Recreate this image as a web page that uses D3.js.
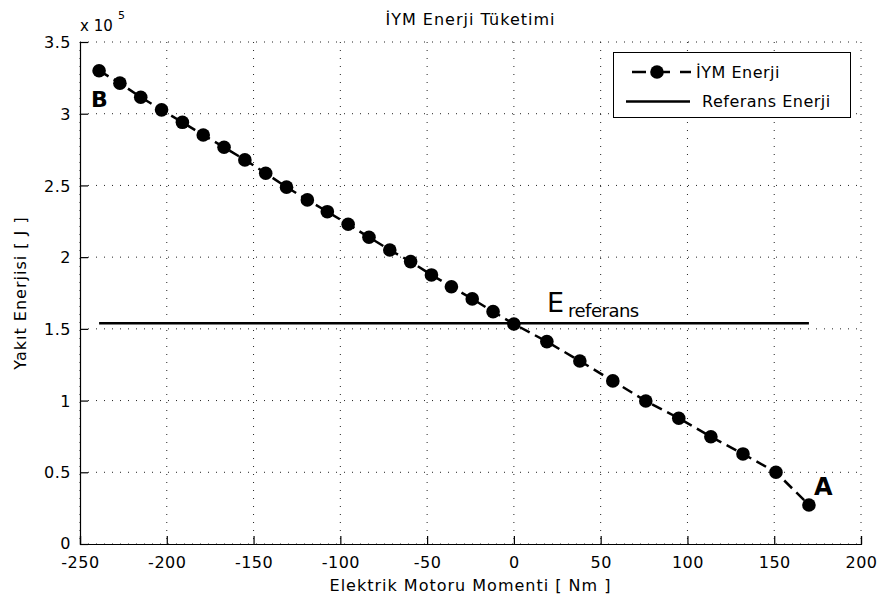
<!DOCTYPE html>
<html>
<head>
<meta charset="utf-8">
<script src="https://cdn.jsdelivr.net/npm/d3@7"></script>
<style>
  body { margin: 0; background: #fff; }
  svg { display: block; font-family: "DejaVu Sans", sans-serif; }
</style>
</head>
<body>
<div id="chart"></div>
<script>
// torque [Nm] and fuel energy [J]
const torque = [-239, -227, -215, -203, -191, -179, -167, -155, -143, -131,
                -119, -107.5, -95.5, -83.5, -71.5, -59.5, -47.5, -36, -24, -12,
                0, 19, 38, 57, 76, 95, 113.5, 132, 151, 170];
const energy = [330000, 321300, 311500, 302700, 294000, 285200, 276600, 267800, 258500, 248800,
                239900, 231700, 222900, 213900, 205000, 196900, 187600, 179400, 170900, 162000,
                153400, 141100, 127600, 113700, 99700, 87700, 74800, 62800, 50000, 27200];
const refEnergy = 153900;

const xTicks = [-250, -200, -150, -100, -50, 0, 50, 100, 150, 200];
const yTicks = [0, 50000, 100000, 150000, 200000, 250000, 300000, 350000];
const yTickLabels = ["0", "0.5", "1", "1.5", "2", "2.5", "3", "3.5"];

const W = 881, H = 602;
const mLeft = 80, mRight = 861, mTop = 42, mBottom = 544;

const svg = d3.select("#chart").append("svg")
    .attr("width", W)
    .attr("height", H);

let x = d3.scaleLinear().domain([-250, 200]).range([mLeft, mRight]);
let y = d3.scaleLinear().domain([0, 350000]).range([mBottom, mTop]);

// dotted grid
svg.append("g").selectAll("line")
    .data(xTicks)
    .enter().append("line")
    .attr("x1", d => x(d)).attr("x2", d => x(d))
    .attr("y1", mTop).attr("y2", mBottom)
    .attr("stroke", "#222").attr("stroke-width", 1)
    .attr("stroke-dasharray", "1,7");
svg.append("g").selectAll("line")
    .data(yTicks)
    .enter().append("line")
    .attr("x1", mLeft).attr("x2", mRight)
    .attr("y1", d => y(d)).attr("y2", d => y(d))
    .attr("stroke", "#222").attr("stroke-width", 1)
    .attr("stroke-dasharray", "1,7");

// axes (inward ticks, box off)
const xAxis = d3.axisBottom(x).tickValues(xTicks).tickSize(-8).tickPadding(13)
    .tickFormat(d => String(d));   // plain hyphen, not the unicode minus
const yAxis = d3.axisLeft(y).tickValues(yTicks).tickSize(-8).tickPadding(9)
    .tickFormat((d, i) => yTickLabels[i]);

const gx = svg.append("g").attr("transform", `translate(0,${mBottom})`).call(xAxis);
const gy = svg.append("g").attr("transform", `translate(${mLeft},0)`).call(yAxis);
[gx, gy].forEach(g => {
    g.select(".domain").attr("stroke", "#000").attr("stroke-width", 1.2);
    g.selectAll(".tick line").attr("stroke", "#000").attr("stroke-width", 1.2);
    g.selectAll(".tick text")
        .attr("fill", "#000")
        .style("font-family", "DejaVu Sans")
        .style("font-size", "16px")
        .style("letter-spacing", "0.5px");
});
gy.selectAll(".tick text").attr("dy", "0.35em");
gy.selectAll(".tick text").filter(d => d === 0).attr("dy", "0.25em");

// exponent
svg.append("text").attr("x", 80).attr("y", 31)
    .style("font-size", "15px").text("x 10");
svg.append("text").attr("x", 118).attr("y", 19)
    .style("font-size", "11px").text("5");

// title and axis labels
svg.append("text").attr("x", (mLeft + mRight) / 2).attr("y", 25)
    .attr("text-anchor", "middle")
    .style("font-size", "16px").style("letter-spacing", "1px")
    .text("İYM Enerji Tüketimi");
svg.append("text").attr("x", (mLeft + mRight) / 2).attr("y", 591)
    .attr("text-anchor", "middle")
    .style("font-size", "16px").style("letter-spacing", "1px")
    .text("Elektrik Motoru Momenti [ Nm ]");
svg.append("text")
    .attr("transform", `translate(26,${(mTop + mBottom) / 2}) rotate(-90)`)
    .attr("text-anchor", "middle")
    .style("font-size", "16px").style("letter-spacing", "1px")
    .text("Yakıt Enerjisi [ J ]");

// reference energy line
svg.append("line")
    .attr("x1", x(torque[0])).attr("x2", x(torque[torque.length - 1]))
    .attr("y1", y(refEnergy)).attr("y2", y(refEnergy))
    .attr("stroke", "#000").attr("stroke-width", 2.5);

// IYM energy: dashed line with markers
const pts = torque.map((t, i) => ({ t: t, e: energy[i] }));
const line = d3.line().x(d => x(d.t)).y(d => y(d.e));
svg.append("path")
    .datum(pts)
    .attr("d", line)
    .attr("fill", "none")
    .attr("stroke", "#000")
    .attr("stroke-width", 2.5)
    .attr("stroke-dasharray", "11,6");
svg.append("g").selectAll("circle")
    .data(pts)
    .enter().append("circle")
    .attr("cx", d => x(d.t))
    .attr("cy", d => y(d.e))
    .attr("r", 6.8)
    .attr("fill", "#000");

// annotations
svg.append("text").attr("x", 91).attr("y", 107)
    .style("font-size", "22px").style("font-weight", "bold").text("B");
svg.append("text").attr("x", 814).attr("y", 495)
    .style("font-size", "24px").style("font-weight", "bold").text("A");
svg.append("text").attr("x", 547).attr("y", 312)
    .style("font-size", "27px").text("E");
svg.append("text").attr("x", 568).attr("y", 317)
    .style("font-size", "18px").style("letter-spacing", "-0.5px").text("referans");

// legend
const lg = svg.append("g");
lg.append("rect")
    .attr("x", 613.5).attr("y", 52.5).attr("width", 237).attr("height", 65)
    .attr("fill", "#fff").attr("stroke", "#000").attr("stroke-width", 1);
lg.append("line")
    .attr("x1", 632).attr("x2", 691).attr("y1", 72).attr("y2", 72)
    .attr("stroke", "#000").attr("stroke-width", 2.5)
    .attr("stroke-dasharray", "14,10");
lg.append("circle").attr("cx", 657).attr("cy", 72).attr("r", 6.8).attr("fill", "#000");
lg.append("text").attr("x", 696).attr("y", 78)
    .style("font-size", "16px").style("letter-spacing", "0.5px").text("İYM Enerji");
lg.append("line")
    .attr("x1", 626).attr("x2", 690).attr("y1", 101.5).attr("y2", 101.5)
    .attr("stroke", "#000").attr("stroke-width", 2.5);
lg.append("text").attr("x", 702).attr("y", 107)
    .style("font-size", "16px").style("letter-spacing", "0.5px").text("Referans Enerji");
</script>
</body>
</html>
